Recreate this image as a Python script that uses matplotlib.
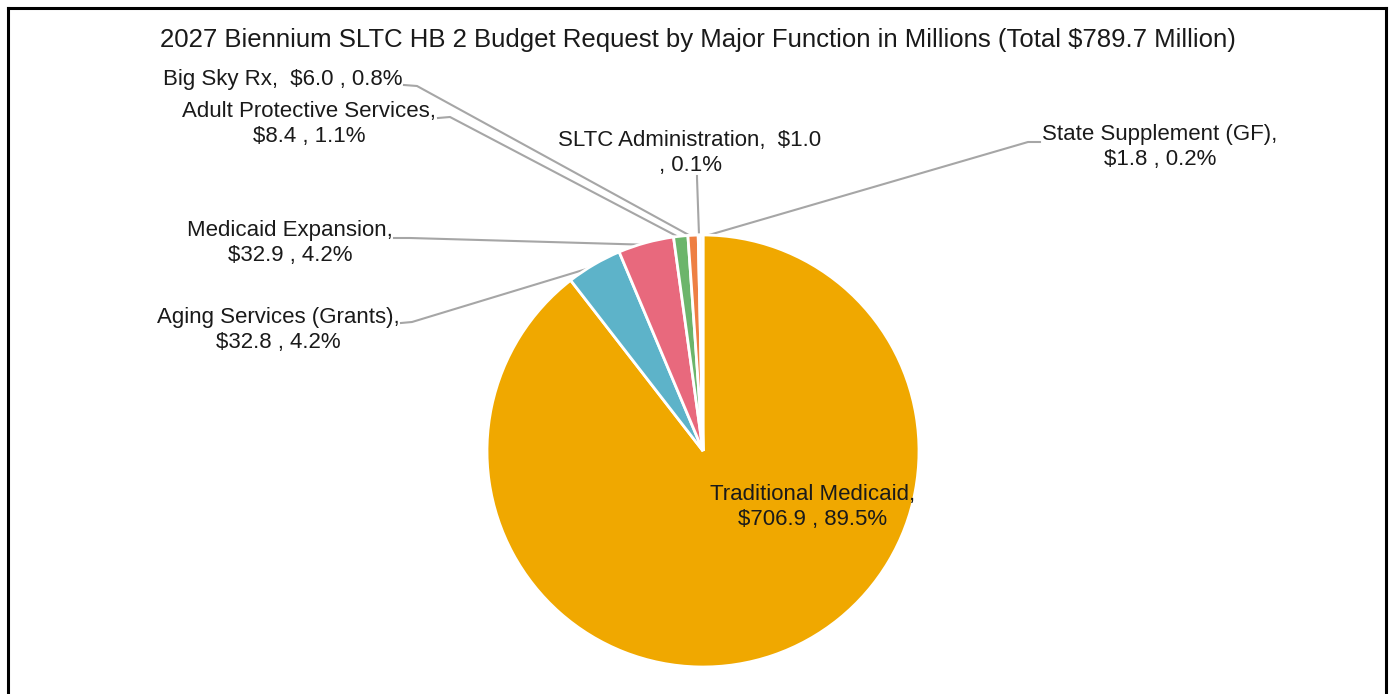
import matplotlib.pyplot as plt
from matplotlib.lines import Line2D
import numpy as np

# Budget request by major function, in millions of dollars
functions = ["Traditional Medicaid", "Aging Services (Grants)", "Medicaid Expansion",
             "Adult Protective Services", "Big Sky Rx", "SLTC Administration",
             "State Supplement (GF)"]
amounts = [706.9, 32.8, 32.9, 8.4, 6.0, 1.0, 1.8]
percents = ["89.5%", "4.2%", "4.2%", "1.1%", "0.8%", "0.1%", "0.2%"]
colors = ["#F0A800", "#5DB3C9", "#E8697D", "#6CB56B", "#EE7F43", "#F4F4F4", "#FBF1E6"]

title = "2027 Biennium SLTC HB 2 Budget Request by Major Function in Millions (Total $789.7 Million)"

# pie placement in pixels (measured from the top left of the figure)
W, H = 1389, 694
CX, CY, R = 703, 451, 216


def px(x, y):
    # pixel position -> pie data coordinates
    return (x - CX) / R, (CY - y) / R


def main():
    fig = plt.figure(figsize=(W / 100, H / 100), dpi=100)
    plt.rcParams['font.family'] = ['Liberation Sans', 'DejaVu Sans']

    ax = fig.add_axes([(CX - R) / W, (H - CY - R) / H, 2 * R / W, 2 * R / H])
    wedges, _ = ax.pie(amounts, colors=colors, startangle=90, counterclock=False,
                       radius=1, wedgeprops=dict(edgecolor="white", linewidth=2))
    ax.set_xlim(-1, 1)
    ax.set_ylim(-1, 1)
    ax.axis("off")

    # label text, text centre and leader start for each slice
    labels = [
        "%s,\n$%.1f , %s" % (functions[0], amounts[0], percents[0]),
        "%s,\n$%.1f , %s" % (functions[1], amounts[1], percents[1]),
        "%s,\n$%.1f , %s" % (functions[2], amounts[2], percents[2]),
        "%s,\n$%.1f , %s" % (functions[3], amounts[3], percents[3]),
        "%s,  $%.1f , %s" % (functions[4], amounts[4], percents[4]),
        "%s,  $%.1f\n, %s" % (functions[5], amounts[5], percents[5]),
        "%s,\n$%.1f , %s" % (functions[6], amounts[6], percents[6]),
    ]
    centres = [(813, 507), (278, 330), (290, 243), (309, 124), (283, 80), (690, 153), (1160, 147)]
    starts = [None, [(401, 323), (412, 322)], [(394, 238), (410, 238)],
              [(438, 118), (450, 117)], [(404, 85), (417, 86)],
              [(697, 176), (697, 178)], [(1040, 142), (1028, 142)]]

    for i, w in enumerate(wedges):
        x, y = px(*centres[i])
        ax.text(x, y, labels[i], ha="center", va="center", fontsize=16,
                color="#1a1a1a", linespacing=1.2, clip_on=False)
        if starts[i] is None:
            continue
        mid = np.deg2rad((w.theta1 + w.theta2) / 2)
        pts = [px(*p) for p in starts[i]] + [(0.99 * np.cos(mid), 0.99 * np.sin(mid))]
        xs, ys = zip(*pts)
        ax.plot(xs, ys, color="#A6A6A6", lw=1.5, clip_on=False, zorder=0)

    fig.text(698 / W, 1 - 40 / H, title, ha="center", va="center", fontsize=18.5, color="#1a1a1a")

    # frame around the chart (bottom edge runs off the image)
    for xs, ys in [([8, 8], [700, 8]), ([8, 1386], [8, 8]), ([1386, 1386], [8, 700])]:
        fig.add_artist(Line2D([x / W for x in xs], [1 - y / H for y in ys],
                              color="black", lw=2.2))

    fig.savefig("out.png", dpi=100, facecolor="white")


if __name__ == '__main__':
    main()
